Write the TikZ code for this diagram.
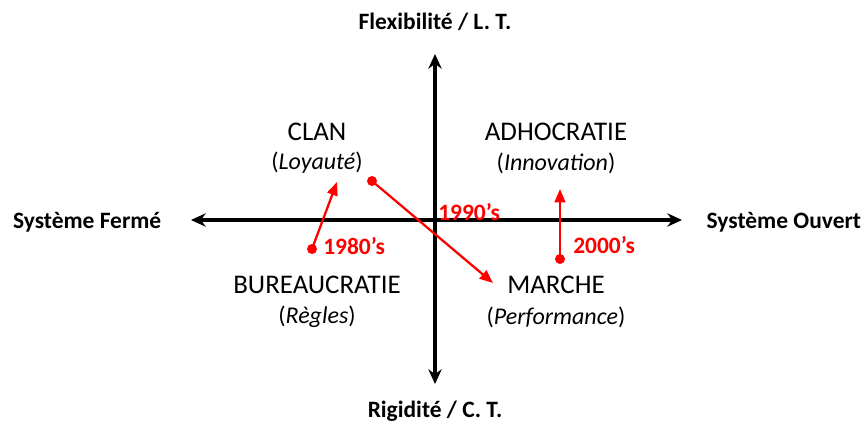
\documentclass[tikz,border=0pt]{standalone}
\usepackage{fontspec}
\setmainfont{Carlito}
\usepackage{tikz}
\usetikzlibrary{
  arrows.meta,
  positioning,
  calc,
  }
\definecolor{rood}{RGB}{255,0,0}
\tikzset{
  as/.style={line width=2.4pt, {Stealth[length=11pt,width=10pt]}-{Stealth[length=11pt,width=10pt]}},
  pijl/.style={rood, line width=1.7pt, -{Triangle[length=10pt,width=8pt]}},
  stip/.style={circle, fill=rood, inner sep=0pt, minimum size=7.5pt},
  aslabel/.style={font=\bfseries\fontsize{17.6}{20}\selectfont},
  kwadrant/.style={font=\fontsize{20.2}{22}\selectfont},
  sub/.style={font=\fontsize{18}{20}\selectfont},
  jaar/.style={rood, font=\bfseries\fontsize{17.6}{20}\selectfont, inner sep=0pt},
}
\begin{document}
\begin{tikzpicture}[x=0.75pt, y=-0.75pt]
                \useasboundingbox (0,0) rectangle (866,427);
                % assen
                \coordinate (boven) at (435,54);
                \coordinate (onder) at (435,384);
                \coordinate (links) at (191,220);
                \coordinate (rechts) at (682,220);
                \draw[as] (onder) -- (boven);
                \draw[as] (links) -- (rechts);
                \node[aslabel] (flex) at (435,22) {Flexibilité / L. T.};
                \node[aslabel] (rig) at (435,411) {Rigidité / C. T.};
                \node[aslabel, anchor=east] (ferme) at (166,222) {Système Fermé};
                \node[aslabel, anchor=west] (ouvert) at (702,222) {Système Ouvert};
                % kwadranten
                \node[kwadrant] (clan) at (317,132) {CLAN};
                \node[sub] (loy) at (317,163) {(\textit{Loyauté})};
                \node[kwadrant] (adho) at (556,132) {ADHOCRATIE};
                \node[sub] (inno) at (556,163) {(\textit{Innovation})};
                \node[kwadrant] (bureau) at (317,285) {BUREAUCRATIE};
                \node[sub] (regl) at (317,317) {(\textit{Règles})};
                \node[kwadrant] (marche) at (556,285) {MARCHE};
                \node[sub] (perf) at (556,317) {(\textit{Performance})};
                % evolutie
                \node[stip] (d80) at (312,249) {};
                \coordinate (e80) at (337,182);
                \node[stip] (d90) at (372,181) {};
                \coordinate (e90) at (493,283);
                \node[stip] (d00) at (560,259) {};
                \coordinate (e00) at (560,189);
                \draw[pijl] (d80.center) -- (e80);
                \draw[pijl] (d90.center) -- (e90);
                \draw[pijl] (d00.center) -- (e00);
                \node[jaar, anchor=west] (j80) at (323,246) {1980’s};
                \node[jaar, anchor=west] (j90) at (438,212) {1990’s};
                \node[jaar, anchor=west] (j00) at (573,245) {2000’s};
\end{tikzpicture}
\end{document}
